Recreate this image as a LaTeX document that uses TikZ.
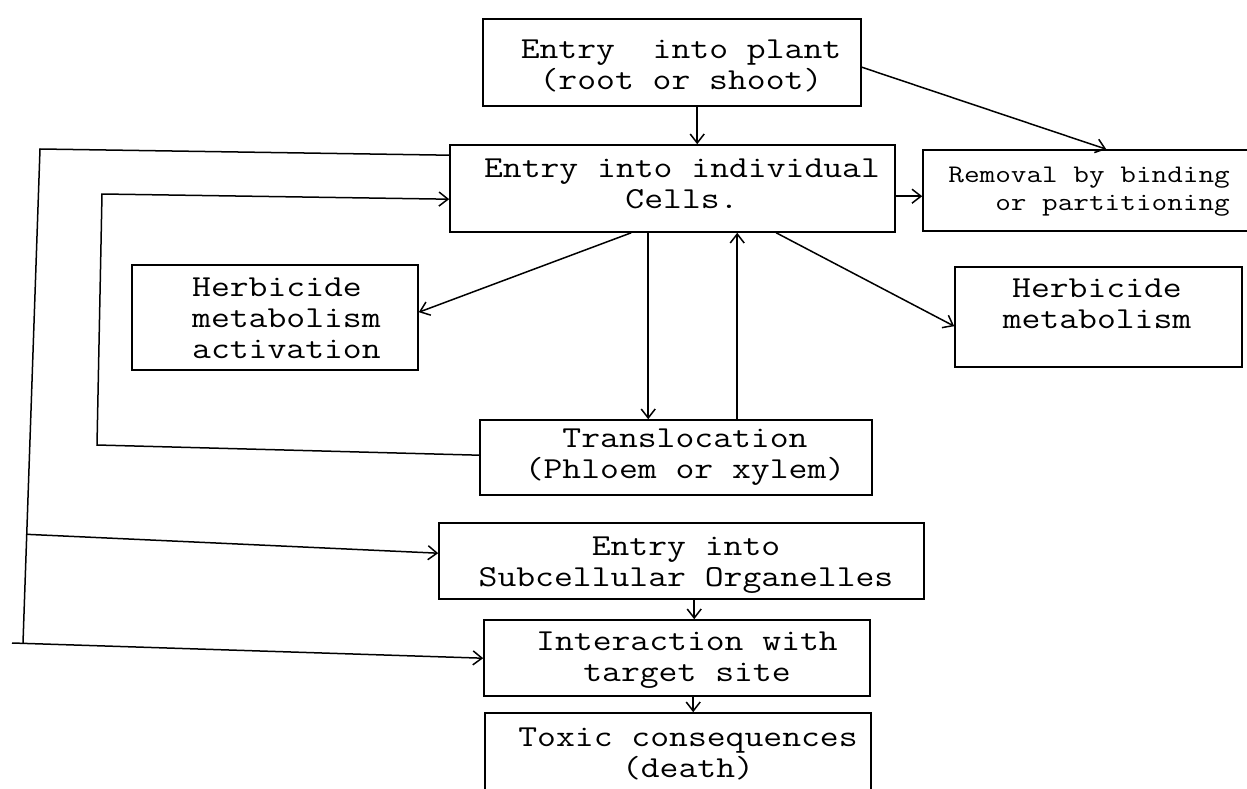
\documentclass[tikz,border=0pt]{standalone}
\usepackage{fontspec}
\usepackage{graphicx}
\usetikzlibrary{calc,arrows.meta}
\newcommand\mono{\ttfamily\fontsize{30.5pt}{31pt}\selectfont}
\newcommand\remfont{\ttfamily\fontsize{25.3pt}{28pt}\selectfont}
\newcommand\wtext[2]{\scalebox{1.2}[1]{\begin{tabular}{@{}#1@{}}#2\end{tabular}}}
\newcommand\diabox[5]{\node[box, minimum width={(#4-#2)*1pt}, minimum height={(#5-#3)*1pt}] (#1) at ({(#2+#4)/2},{(#3+#5)/2}) {};}
\tikzset{
  box/.style={draw, rectangle, inner sep=0pt, line width=1.6pt},
  txt/.style={inner sep=0pt, font=\mono},
  line/.style={line width=1.5pt},
  arr/.style={line width=1.5pt, -{Straight Barb[length=9pt,width=14pt,line width=1.5pt]}}
}
\begin{document}
\begin{tikzpicture}[x=1pt,y=-1pt]
\fill[white] (0,0) rectangle (1247,789);
\useasboundingbox (0,0) rectangle (1247,789);
% boxes
\diabox{b1}{483}{19}{861}{106}
\diabox{b2}{450}{145}{895}{232}
\diabox{rem}{923}{150}{1252}{231}
\diabox{act}{132}{265}{418}{370}
\diabox{hm}{955}{267}{1242}{367}
\diabox{tr}{480}{420}{872}{495}
\diabox{org}{439}{523}{924}{599}
\diabox{tgt}{484}{620}{870}{696}
\diabox{tox}{485}{713}{871}{800}
% texts
\node[txt] (t1) at (681,67.8) {\wtext{c}{Entry\ \ into plant\\(root or shoot)}};
\node[txt] (t2) at (682,186.3) {\wtext{c}{Entry into individual\\Cells.}};
\node[txt, font=\remfont, anchor=east] (t3) at (1230,190.4) {\wtext{r}{Removal by binding\\or partitioning}};
\node[txt, anchor=west] (t4) at (192,321.5) {\wtext{l}{Herbicide\\metabolism\\activation}};
\node[txt] (t5) at (1097,306.3) {\wtext{c}{Herbicide\\metabolism}};
\node[txt] (t6) at (685,456.8) {\wtext{c}{Translocation\\(Phloem or xylem)}};
\node[txt] (t7) at (686,564.3) {\wtext{c}{Entry into\\Subcellular Organelles}};
\node[txt] (t8) at (687,659.8) {\wtext{c}{Interaction with\\target site}};
\node[txt] (t9) at (688,755.3) {\wtext{c}{Toxic consequences\\(death)}};
% connectors
\draw[arr] ($(b1.south west)+(215,0)$) -- ($(b2.north west)+(248,0)$);
\draw[arr] ($(b1.north east)+(0,49)$) -- ($(rem.north west)+(184,0)$);
\draw[arr] ($(b2.north east)+(0,52)$) -- ($(rem.north west)+(0,47)$);
% outer loop
\coordinate (oa) at (40,149);
\coordinate (ob) at (23,643);
\coordinate (oc) at (12,643);
\draw[line] ($(b2.north west)+(0,11)$) -- (oa) -- (ob);
\draw[arr] ($(oa)!0.78!(ob)$) -- ($(org.north west)+(0,31)$);
\draw[arr] (oc) -- ($(tgt.north west)+(0,39)$);
% inner loop
\coordinate (ia) at (97,445);
\coordinate (ib) at (102,194);
\draw[arr] ($(tr.north west)+(0,36)$) -- (ia) -- (ib) -- ($(b2.north west)+(0,55)$);
% vertical exchange with translocation
\draw[arr] ($(b2.south west)+(199,0)$) -- ($(tr.north west)+(169,0)$);
\draw[arr] ($(tr.north west)+(258,0)$) -- ($(b2.south west)+(288,0)$);
% diagonals to metabolism boxes
\draw[arr] ($(b2.south west)+(182,0)$) -- ($(act.north east)+(0,48)$);
\draw[arr] ($(b2.south west)+(327,0)$) -- ($(hm.north west)+(0,60)$);
% lower chain
\draw[arr] ($(org.south west)+(256,0)$) -- ($(tgt.north west)+(211,0)$);
\draw[arr] ($(tgt.south west)+(210,0)$) -- ($(tox.north west)+(209,0)$);
\end{tikzpicture}
\end{document}
